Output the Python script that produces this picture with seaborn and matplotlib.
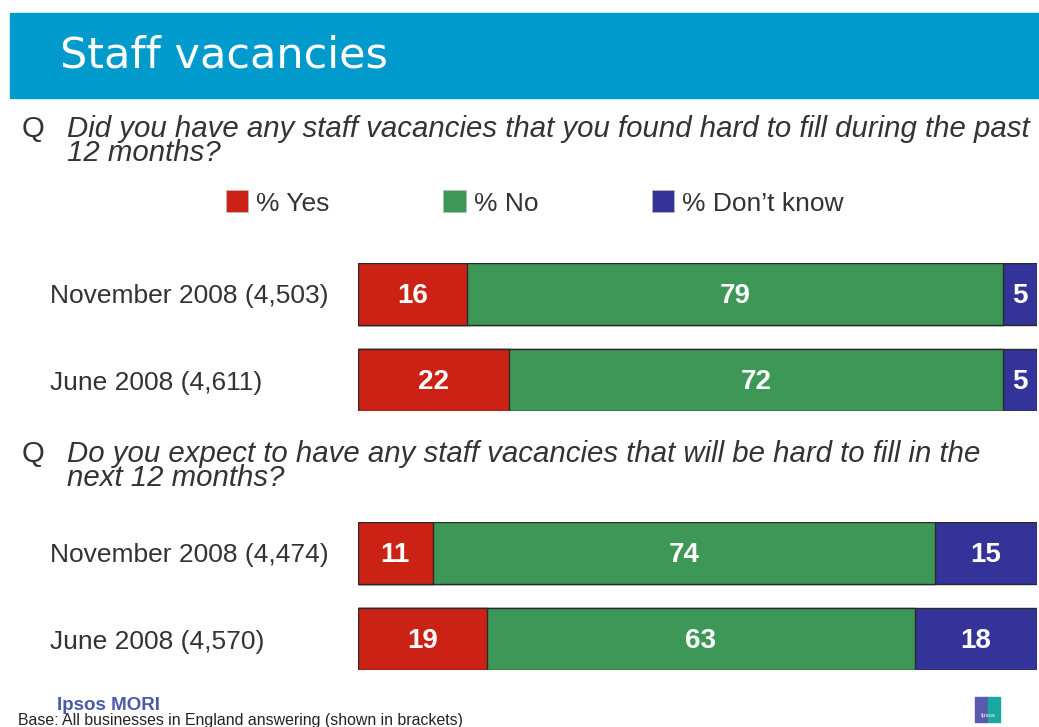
import pandas as pd
import matplotlib.pyplot as plt
import matplotlib.patches as mpatches
import seaborn as sns

# data
answers = ['% Yes', '% No', '% Don\u2019t know']
q1_rows = ['November 2008 (4,503)', 'June 2008 (4,611)']
q1_yes = [16, 22]
q1_no = [79, 72]
q1_dk = [5, 5]
q2_rows = ['November 2008 (4,474)', 'June 2008 (4,570)']
q2_yes = [11, 19]
q2_no = [74, 63]
q2_dk = [15, 18]

colors = ['#CC2216', '#3D9757', '#333399']
text_col = '#333333'
W, H = 1039, 727

sns.set_theme(style='white')
plt.rcParams['font.family'] = ['Liberation Sans', 'DejaVu Sans']


def stacked(ax, rows, yes, no, dk):
    df = pd.DataFrame({'row': rows, 'yes': yes, 'no': no, 'dk': dk})
    tot = df['yes'] + df['no'] + df['dk']
    # bars fill the full width, shares rescaled to the row total
    df['c1'] = df['yes'] / tot * 100
    df['c2'] = (df['yes'] + df['no']) / tot * 100
    df['c3'] = 100.0
    for col, c in zip(['c3', 'c2', 'c1'], colors[::-1]):
        sns.barplot(data=df, y='row', x=col, orient='h', color=c, width=0.717,
                    saturation=1, edgecolor='#2a2a2a', linewidth=1, ax=ax)
    for i, r in df.iterrows():
        starts = [0, r['c1'], r['c2']]
        ends = [r['c1'], r['c2'], 100]
        for v, s, e in zip([r['yes'], r['no'], r['dk']], starts, ends):
            ax.text((s + e) / 2, i + 0.02, str(v), ha='center', va='center', color='white',
                    fontsize=20, fontweight='bold')
    ax.set_xlim(0, 100)
    ax.set_ylim(1 + 0.3585, -0.3585)
    ax.set_xlabel('')
    ax.set_ylabel('')
    ax.set_xticks([])
    sns.despine(ax=ax, left=True, bottom=True)
    ax.tick_params(axis='y', length=0, pad=221.5, labelsize=19, labelcolor=text_col)
    for lab in ax.get_yticklabels():
        lab.set_horizontalalignment('left')


fig = plt.figure(figsize=(W / 100, H / 100), dpi=100)

# title band
fig.patches.append(mpatches.Rectangle((10 / W, 1 - 98 / H), 1 - 10 / W, 85 / H,
                                      transform=fig.transFigure, color='#009BCC', zorder=0))
fig.text(60 / W, 1 - 55 / H, 'Staff vacancies', color='white', fontsize=31,
         va='center', ha='left', family=['DejaVu Sans'])

# questions
q_size = 21.2
fig.text(22 / W, 1 - 115 / H, 'Q', fontsize=q_size, color=text_col, va='top')
fig.text(67 / W, 1 - 115 / H,
         'Did you have any staff vacancies that you found hard to fill during the past\n12 months?',
         fontsize=q_size, style='italic', color=text_col, va='top', linespacing=0.82)
fig.text(22 / W, 1 - 440 / H, 'Q', fontsize=q_size, color=text_col, va='top')
fig.text(67 / W, 1 - 440 / H,
         'Do you expect to have any staff vacancies that will be hard to fill in the\nnext 12 months?',
         fontsize=q_size, style='italic', color=text_col, va='top', linespacing=0.82)

ax1 = fig.add_axes([358 / W, 1 - 411 / H, 679 / W, 148 / H])
stacked(ax1, q1_rows, q1_yes, q1_no, q1_dk)
ax2 = fig.add_axes([358 / W, 1 - 670 / H, 679 / W, 148 / H])
stacked(ax2, q2_rows, q2_yes, q2_no, q2_dk)

handles = [mpatches.Patch(facecolor=c, edgecolor='#bbbbbb', linewidth=0.5) for c in colors]
fig.legend(handles, answers, loc='center left', bbox_to_anchor=(226 / W, 1 - 203 / H),
           ncol=3, frameon=False, fontsize=19, handlelength=0.85, handleheight=0.9,
           handletextpad=0.3, columnspacing=4.3, labelcolor=text_col,
           borderpad=0, borderaxespad=0)

# footer
fig.text(57 / W, 1 - 706 / H, 'Ipsos MORI', fontsize=13.5, fontweight='bold',
         color='#4A5AA8', va='center')
fig.text(18 / W, 1 - 720 / H, 'Base: All businesses in England answering (shown in brackets)',
         fontsize=11.4, color='#222222', va='center')
fig.patches.append(mpatches.Rectangle((975 / W, 1 - 722 / H), 13 / W, 25 / H,
                                      transform=fig.transFigure, color='#5A5AAE'))
fig.patches.append(mpatches.Rectangle((988 / W, 1 - 722 / H), 12 / W, 25 / H,
                                      transform=fig.transFigure, color='#1AA8A0'))
fig.text(987.5 / W, 1 - 716 / H, 'Ipsos', fontsize=4.5, color='white', ha='center', va='center')

fig.savefig('out.png', dpi=100)
plt.close(fig)
